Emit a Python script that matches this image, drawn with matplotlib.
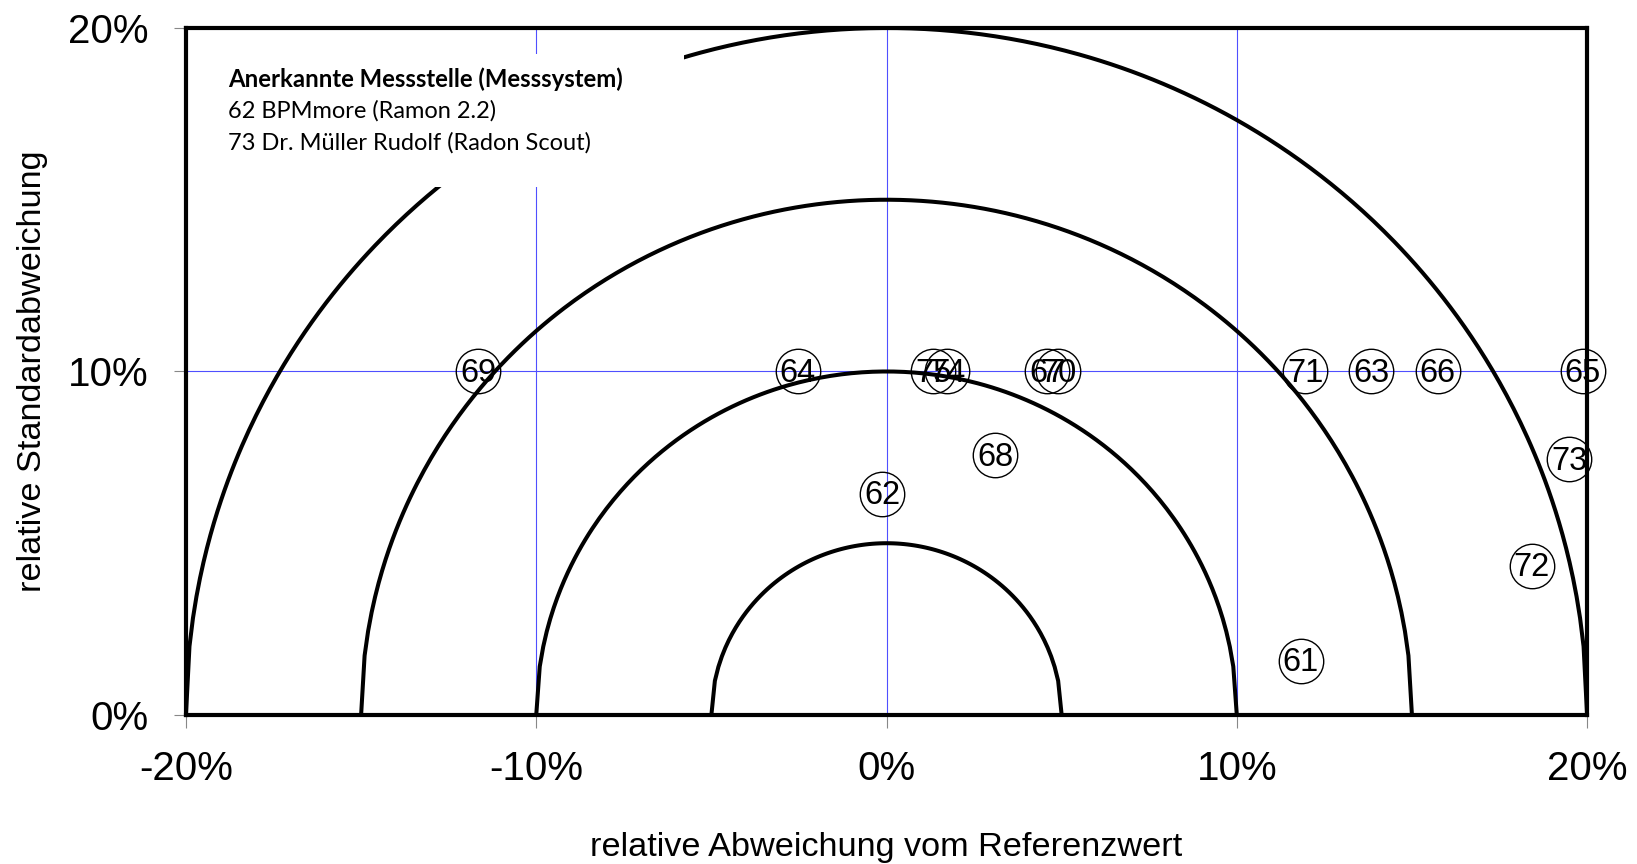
import numpy as np
import matplotlib
matplotlib.use("Agg")
import matplotlib.pyplot as plt
from matplotlib.patches import Rectangle

# Data (in %)
labels = ["69", "64", "75", "74", "67", "70", "71", "63", "66", "65", "73", "72", "61", "62", "68"]
x_vals = [-11.65, -2.53, 1.33, 1.73, 4.58, 4.90, 11.95, 13.83, 15.74, 19.88, 19.49, 18.42, 11.83, -0.12, 3.10]
y_vals = [10.0, 10.0, 10.0, 10.0, 10.0, 10.0, 10.0, 10.0, 10.0, 10.0, 7.44, 4.34, 1.58, 6.43, 7.56]
radii = [5, 10, 15, 20]
x_ticks = [-20, -10, 0, 10, 20]
x_ticklabels = ["-20%", "-10%", "0%", "10%", "20%"]
y_ticks = [0, 10, 20]
y_ticklabels = ["0%", "10%", "20%"]
legend_title = "Anerkannte Messstelle (Messsystem)"
legend_lines = ["62 BPMmore (Ramon 2.2)", "73 Dr. Müller Rudolf (Radon Scout)"]

plt.rcParams['font.family'] = ['Liberation Sans', 'DejaVu Sans']

fig = plt.figure(figsize=(16.37, 8.64), dpi=100)
ax = fig.add_axes([0.1136, 0.1725, 0.9695 - 0.1136, 0.9676 - 0.1725])
ax.set_xlim(-20, 20)
ax.set_ylim(0, 20)

# grid lines
for gx in [-10, 0, 10]:
    ax.axvline(gx, color='#4f4fff', lw=0.8, zorder=1)
ax.axhline(10, color='#4f4fff', lw=0.8, zorder=1)

# semicircles
for r in radii:
    xs = np.linspace(-r, r, int(round(2 * r / 0.1)) + 1)
    ys = np.sqrt(np.clip(r**2 - xs**2, 0, None))
    ax.plot(xs, ys, color='black', lw=2.9, zorder=2, solid_capstyle='butt')

# legend box (white, covers circle and grid)
ax.add_patch(Rectangle((-20, 15.37), 14.22, 3.87, facecolor='white', edgecolor='none', zorder=3))
lx = -20 + (228 - 186) / 35.03
lfam = ['Lato', 'DejaVu Sans']
ax.text(lx, 18.28, legend_title, fontsize=17.2, fontweight='bold', family=lfam,
        va='baseline', ha='left', zorder=4)
ax.text(lx, 17.40, legend_lines[0], fontsize=17.0, family=lfam,
        va='baseline', ha='left', zorder=4)
ax.text(lx, 16.45, legend_lines[1], fontsize=17.0, family=lfam,
        va='baseline', ha='left', zorder=4)

# points
for lab, xv, yv in zip(labels, x_vals, y_vals):
    ax.plot(xv, yv, marker='o', ms=32, mfc='none', mec='black', mew=1.0, zorder=5, clip_on=False)
    ax.text(xv, yv - 0.05, lab, fontsize=23.5, ha='center', va='center', zorder=6)

for s in ax.spines.values():
    s.set_linewidth(3.0)
    s.set_zorder(7)

ax.set_xticks(x_ticks)
ax.set_xticklabels(x_ticklabels)
ax.set_yticks(y_ticks)
ax.set_yticklabels(y_ticklabels)
ax.tick_params(axis='both', direction='out', length=9, width=0.8, color='#888888', labelsize=29)
ax.tick_params(axis='x', pad=16)
ax.tick_params(axis='y', pad=18)

ax.set_xlabel("relative Abweichung vom Referenzwert", fontsize=24.7, labelpad=32)
ax.set_ylabel("relative Standardabweichung", fontsize=24.7, labelpad=14)

fig.savefig("out.png", dpi=100)
